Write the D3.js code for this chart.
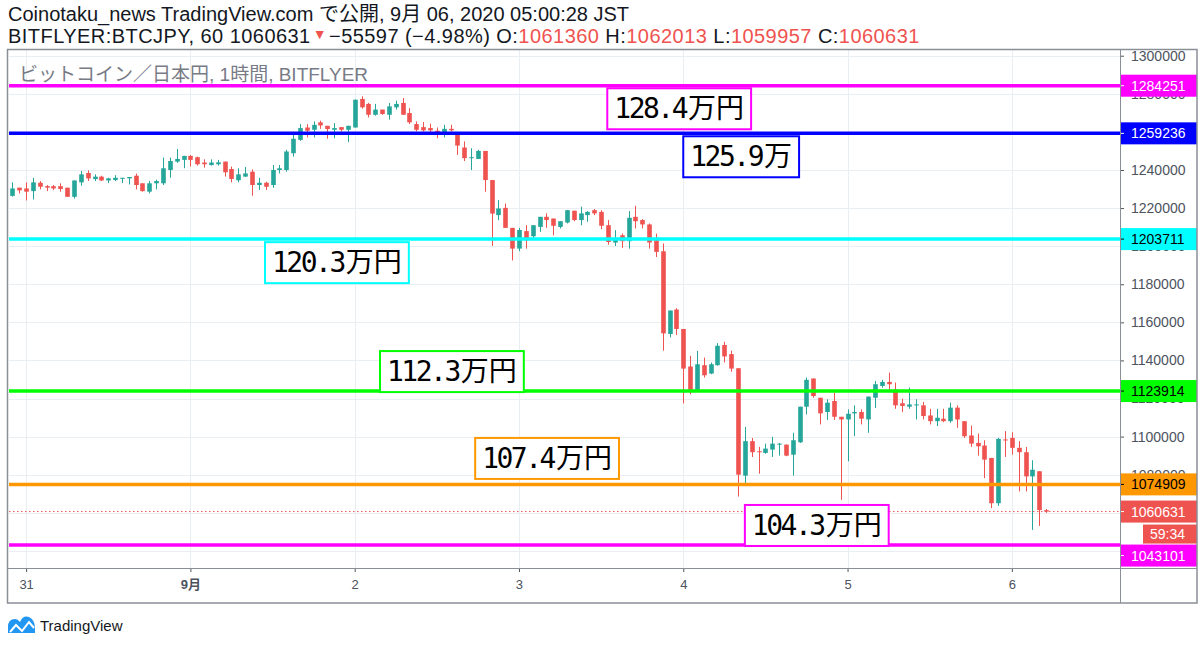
<!DOCTYPE html>
<html>
<head>
<meta charset="utf-8">
<script src="https://cdn.jsdelivr.net/npm/d3@7"></script>
<style>
body { margin: 0; background: #ffffff; }
svg { display: block; }
</style>
</head>
<body>
<svg id="chart" width="1200" height="647"></svg>
<script>
// Hourly BTC/JPY candles in thousand yen, first candle = Aug 30 22:00 JST (hour -2)
const firstHour = -2;
const opens = [
  1226.4, 1230.7, 1230.3, 1228.9, 1233.3, 1231.5, 1231.5, 1231.5, 1230.7, 1225.9,
  1233.5, 1238.4, 1235.2, 1236.5, 1234.5, 1234.7, 1235.6, 1235.6, 1237.0, 1233.0,
  1228.6, 1233.0, 1233.0, 1240.0, 1244.4, 1245.3, 1247.4, 1246.7, 1243.9, 1242.6,
  1243.0, 1244.4, 1240.5, 1234.6, 1236.5, 1239.1, 1232.1, 1233.3, 1232.1, 1240.0,
  1240.0, 1248.8, 1255.8, 1262.3, 1261.1, 1265.0, 1263.2, 1261.1, 1262.5, 1261.1,
  1262.3, 1277.3, 1274.7, 1269.0, 1271.7, 1269.0, 1272.9, 1275.2, 1269.9, 1264.1,
  1262.5, 1262.0, 1260.6, 1259.9, 1261.6, 1259.0, 1251.8, 1246.2, 1245.8, 1250.0,
  1234.7, 1216.3, 1220.1, 1209.6, 1198.7, 1207.9, 1205.2, 1210.1, 1215.4, 1214.5,
  1210.1, 1212.4, 1218.6, 1213.7, 1216.3, 1218.9, 1218.0, 1211.0, 1201.9, 1205.7,
  1202.6, 1215.4, 1213.7, 1211.4, 1203.1, 1197.3, 1153.9, 1166.7, 1156.5, 1136.8,
  1124.0, 1137.5, 1133.1, 1137.5, 1148.1, 1143.3, 1135.9, 1079.5, 1097.6, 1092.3,
  1091.4, 1093.2, 1095.8, 1095.8, 1090.5, 1097.0, 1115.7, 1130.5, 1120.4, 1112.9,
  1118.7, 1110.4, 1109.0, 1112.2, 1112.9, 1109.0, 1120.4, 1126.6, 1128.7, 1124.8,
  1117.5, 1115.7, 1116.4, 1116.4, 1111.1, 1108.1, 1109.4, 1108.1, 1115.2, 1108.1,
  1100.6, 1096.7, 1095.3, 1088.8, 1065.0, 1098.5, 1099.3, 1094.1, 1091.8, 1079.1,
  1081.8, 1061.36
];
const highs = [
  1233.5, 1230.7, 1233.5, 1235.9, 1234.2, 1232.1, 1232.1, 1233.0, 1230.7, 1234.5,
  1239.5, 1239.8, 1237.7, 1237.0, 1235.9, 1237.3, 1235.9, 1236.3, 1238.1, 1233.0,
  1234.2, 1234.9, 1246.5, 1246.5, 1251.0, 1247.4, 1247.9, 1247.0, 1245.6, 1245.6,
  1245.3, 1244.4, 1241.8, 1240.9, 1241.6, 1240.3, 1235.9, 1233.8, 1242.6, 1242.6,
  1250.6, 1258.5, 1264.1, 1264.1, 1265.5, 1265.9, 1263.2, 1264.6, 1262.5, 1263.2,
  1277.0, 1278.7, 1275.2, 1274.7, 1271.7, 1275.2, 1276.4, 1277.8, 1272.5, 1265.5,
  1265.2, 1264.3, 1262.3, 1263.7, 1263.7, 1259.0, 1255.0, 1251.4, 1250.6, 1250.0,
  1234.7, 1224.2, 1222.4, 1209.6, 1209.6, 1211.0, 1211.0, 1215.4, 1217.2, 1214.5,
  1213.1, 1218.9, 1218.6, 1220.7, 1218.4, 1219.5, 1218.9, 1213.7, 1208.4, 1206.6,
  1218.4, 1221.2, 1214.2, 1211.9, 1206.6, 1201.4, 1166.2, 1167.4, 1156.5, 1142.4,
  1145.0, 1141.5, 1138.9, 1149.1, 1149.8, 1145.1, 1135.9, 1105.1, 1099.3, 1094.6,
  1096.3, 1099.9, 1096.7, 1095.8, 1102.0, 1115.7, 1131.0, 1130.5, 1120.4, 1119.6,
  1123.1, 1110.4, 1114.3, 1116.4, 1114.3, 1121.0, 1129.2, 1129.8, 1133.6, 1128.4,
  1119.9, 1125.7, 1119.6, 1118.2, 1114.6, 1114.6, 1114.6, 1117.8, 1116.4, 1108.1,
  1105.8, 1101.6, 1098.1, 1088.8, 1099.3, 1102.9, 1102.3, 1097.6, 1094.6, 1087.6,
  1081.8, 1062.013
];
const lows = [
  1226.0, 1227.7, 1224.0, 1224.5, 1229.8, 1228.9, 1229.4, 1228.6, 1225.9, 1225.0,
  1231.7, 1234.2, 1234.2, 1234.2, 1233.1, 1234.2, 1233.1, 1232.4, 1229.8, 1228.6,
  1227.7, 1229.8, 1232.1, 1235.9, 1243.7, 1240.9, 1241.8, 1242.3, 1241.2, 1242.3,
  1242.3, 1236.5, 1233.5, 1233.5, 1236.5, 1226.5, 1229.5, 1229.5, 1230.7, 1238.2,
  1239.1, 1247.0, 1255.3, 1257.1, 1257.1, 1261.6, 1256.4, 1256.7, 1260.2, 1254.6,
  1262.3, 1272.2, 1267.6, 1268.5, 1269.0, 1266.4, 1271.7, 1269.0, 1264.1, 1260.2,
  1260.2, 1258.5, 1256.7, 1257.1, 1260.2, 1247.9, 1244.7, 1240.0, 1245.8, 1228.6,
  1200.1, 1213.6, 1209.6, 1192.5, 1197.3, 1198.7, 1204.0, 1207.5, 1209.6, 1205.7,
  1209.3, 1211.9, 1213.1, 1211.0, 1212.8, 1216.3, 1208.9, 1200.8, 1200.1, 1199.1,
  1198.7, 1209.3, 1209.3, 1198.7, 1194.3, 1145.1, 1152.1, 1153.3, 1117.4, 1122.2,
  1124.0, 1131.0, 1132.8, 1137.2, 1138.9, 1134.0, 1068.5, 1075.6, 1089.3, 1080.5,
  1091.0, 1089.3, 1090.0, 1089.7, 1079.5, 1096.7, 1111.6, 1120.4, 1106.4, 1108.7,
  1108.7, 1066.8, 1087.0, 1100.2, 1106.4, 1102.0, 1115.0, 1125.7, 1124.5, 1114.6,
  1112.9, 1114.6, 1109.0, 1109.0, 1106.4, 1105.5, 1107.6, 1107.3, 1104.6, 1099.3,
  1094.6, 1090.0, 1078.2, 1062.4, 1063.6, 1089.3, 1090.5, 1071.2, 1071.2, 1051.0,
  1053.1, 1059.957
];
const closes = [
  1230.3, 1229.3, 1228.6, 1233.5, 1231.2, 1230.7, 1230.3, 1230.0, 1225.9, 1234.5,
  1237.7, 1235.6, 1236.5, 1234.5, 1235.6, 1235.9, 1235.9, 1236.3, 1232.1, 1228.9,
  1233.0, 1234.2, 1240.9, 1244.7, 1245.8, 1247.4, 1245.3, 1243.0, 1243.0, 1243.9,
  1244.0, 1238.8, 1235.3, 1237.7, 1238.2, 1232.1, 1233.3, 1231.2, 1240.0, 1240.9,
  1249.7, 1256.4, 1262.0, 1260.6, 1263.7, 1263.4, 1261.5, 1262.0, 1261.1, 1263.2,
  1276.9, 1272.9, 1269.0, 1271.7, 1269.4, 1273.4, 1274.7, 1269.0, 1265.0, 1261.1,
  1260.8, 1260.8, 1258.8, 1261.6, 1260.8, 1252.8, 1246.2, 1246.7, 1250.0, 1234.7,
  1217.1, 1219.8, 1209.6, 1198.7, 1208.5, 1204.3, 1211.0, 1215.4, 1213.7, 1210.7,
  1213.1, 1218.9, 1213.7, 1217.2, 1218.0, 1217.2, 1210.7, 1202.2, 1203.6, 1202.6,
  1214.9, 1213.1, 1211.4, 1201.9, 1197.0, 1154.2, 1166.2, 1156.5, 1135.7, 1124.5,
  1138.0, 1132.2, 1138.0, 1147.7, 1142.1, 1135.7, 1080.0, 1097.6, 1091.8, 1091.8,
  1093.7, 1096.3, 1096.3, 1090.0, 1098.1, 1115.7, 1129.8, 1121.3, 1112.2, 1117.8,
  1110.4, 1109.0, 1112.0, 1112.9, 1109.4, 1121.0, 1127.5, 1128.7, 1127.5, 1116.4,
  1116.1, 1116.9, 1116.9, 1110.8, 1108.1, 1109.9, 1108.1, 1115.2, 1109.0, 1100.2,
  1096.3, 1094.9, 1087.9, 1065.0, 1098.8, 1098.1, 1094.1, 1091.8, 1079.1, 1082.6,
  1061.4, 1060.631
];

// Time axis: hours since Aug 31 00:00 JST
const dayHours = [0, 24, 48, 72, 96, 120, 144];
const dayLabels = ['31', '9月', '2', '3', '4', '5', '6'];

// Price axis ticks (thousand yen)
const priceTicks = [1040, 1060, 1080, 1100, 1120, 1140, 1160, 1180, 1200, 1220, 1240, 1260, 1280, 1300];

// Horizontal support / resistance lines
const levelPrices = [1284.251, 1259.236, 1203.711, 1123.914, 1074.909, 1043.101];
const levelColors = ['#ff00ff', '#0000ff', '#00ffff', '#00ff00', '#ff9800', '#ff00ff'];
const levelTextColors = ['#ffffff', '#ffffff', '#000000', '#000000', '#000000', '#ffffff'];

// Text notes: anchored at (hour, price) of their top-left corner
const noteNumbers = ['128.4', '125.9', '120.3', '112.3', '107.4', '104.3'];
const noteUnits = ['万円', '万', '万円', '万円', '万円', '万円'];
const noteHours = [84.9, 96.0, 34.9, 51.7, 65.6, 105.0];
const notePrices = [1282.9, 1257.7, 1202.1, 1144.9, 1099.3, 1064.1];
const noteColors = ['#ff00ff', '#0000ff', '#00ffff', '#00ff00', '#ff9800', '#ff00ff'];

const lastPrice = 1060.631;
const countdown = '59:34';

const UP = '#26a69a', DOWN = '#ef5350';
const FONT = "'Liberation Sans', Arial, 'Noto Sans CJK JP', sans-serif";

const svg = d3.select('#chart');
const plot = { left: 9, right: 1120, top: 50, bottom: 568 };
const timeAxisBottom = 603;
const frameRight = 1197;

const x = d3.scaleLinear().domain([-2.5, 159.8]).range([plot.left, plot.right]);
const y = d3.scaleLinear().domain([1031, 1303]).range([plot.bottom, plot.top]);

drawHeader();
drawGrid();
drawCandles();
drawLevels();
drawNotes();
drawAxes();
drawFrame();
drawLogo();

// Two header lines above the chart
function drawHeader() {
    svg.append('text')
        .attr('x', 8).attr('y', 21)
        .style('font-family', FONT).style('font-size', '20px')
        .attr('fill', '#131722')
        .text('Coinotaku_news TradingView.com で公開, 9月 06, 2020 05:00:28 JST');

    const t2 = svg.append('text')
        .attr('x', 8).attr('y', 43)
        .style('font-family', FONT).style('font-size', '20px')
        .style('letter-spacing', '0.45px')
        .attr('fill', '#131722');

    const parts = [
        ['BITFLYER:BTCJPY, 60 1060631', '#131722'],
        ['▼', DOWN],
        ['−55597 (−4.98%) O:', '#131722'],
        ['1061360', DOWN],
        [' H:', '#131722'],
        ['1062013', DOWN],
        [' L:', '#131722'],
        ['1059957', DOWN],
        [' C:', '#131722'],
        ['1060631', DOWN]
    ];
    parts.forEach(p => {
        const ts = t2.append('tspan').attr('fill', p[1]).text(p[0]);
        if (p[0] === '▼') ts.style('font-size', '14px').attr('dx', 2).attr('dy', -4);
        if (p[0].startsWith('−55597')) ts.attr('dx', 2).attr('dy', 4);
    });
}

// Light grid lines inside the plot
function drawGrid() {
    const g = svg.append('g').attr('class', 'grid');
    g.selectAll('line.h')
        .data(priceTicks)
        .enter().append('line')
        .attr('x1', plot.left).attr('x2', plot.right)
        .attr('y1', d => Math.round(y(d)) + 0.5)
        .attr('y2', d => Math.round(y(d)) + 0.5)
        .attr('stroke', '#e9eef3');
    g.selectAll('line.v')
        .data(dayHours)
        .enter().append('line')
        .attr('y1', plot.top).attr('y2', plot.bottom)
        .attr('x1', d => Math.round(x(d)) + 0.5)
        .attr('x2', d => Math.round(x(d)) + 0.5)
        .attr('stroke', '#e9eef3');

    svg.append('text')
        .attr('x', 19).attr('y', 81)
        .style('font-family', FONT).style('font-size', '19px')
        .attr('fill', '#787b86')
        .text('ビットコイン／日本円, 1時間, BITFLYER');
}

// Candles: wick + body
function drawCandles() {
    const data = opens.map((o, i) => ({
        hour: firstHour + i, o: o, h: highs[i], l: lows[i], c: closes[i]
    }));
    const bodyW = 4.6;

    const g = svg.append('g').attr('class', 'candles');
    const c = g.selectAll('g')
        .data(data)
        .enter().append('g');

    c.append('line')
        .attr('x1', d => Math.round(x(d.hour)) + 0.5)
        .attr('x2', d => Math.round(x(d.hour)) + 0.5)
        .attr('y1', d => y(d.h))
        .attr('y2', d => y(d.l))
        .attr('stroke', d => d.c >= d.o ? UP : DOWN)
        .attr('stroke-width', 1);

    c.append('rect')
        .attr('x', d => Math.round(x(d.hour)) + 0.5 - bodyW / 2)
        .attr('width', bodyW)
        .attr('y', d => y(Math.max(d.o, d.c)))
        .attr('height', d => Math.max(1, Math.abs(y(d.o) - y(d.c))))
        .attr('fill', d => d.c >= d.o ? UP : DOWN);

    // dotted last price line
    svg.append('line')
        .attr('x1', plot.left).attr('x2', plot.right)
        .attr('y1', y(lastPrice)).attr('y2', y(lastPrice))
        .attr('stroke', DOWN)
        .attr('stroke-dasharray', '1.5,2.5');
}

// Thick horizontal level lines
function drawLevels() {
    svg.append('g')
        .selectAll('line')
        .data(levelPrices)
        .enter().append('line')
        .attr('x1', plot.left).attr('x2', plot.right)
        .attr('y1', d => y(d)).attr('y2', d => y(d))
        .attr('stroke', (d, i) => levelColors[i])
        .attr('stroke-width', 3.5);
}

// Boxed price notes
function drawNotes() {
    const g = svg.append('g').attr('class', 'notes');
    noteNumbers.forEach((num, i) => {
        const bx = x(noteHours[i]);
        const by = y(notePrices[i]);
        const box = g.append('g');
        const rect = box.append('rect');
        const txt = box.append('text')
            .attr('x', bx + 7)
            .attr('y', by + 30)
            .attr('fill', '#000')
            .style('font-size', '28px');
        txt.append('tspan')
            .style('font-family', "'DejaVu Sans Mono', monospace")
            .style('letter-spacing', '-2.5px')
            .text(num);
        txt.append('tspan')
            .attr('dx', 2)
            .style('font-family', "'Noto Sans CJK JP', sans-serif")
            .text(noteUnits[i]);
        const w = txt.node().getComputedTextLength();
        rect.attr('x', bx).attr('y', by)
            .attr('width', w + 16).attr('height', 41)
            .attr('fill', '#ffffff')
            .attr('stroke', noteColors[i])
            .attr('stroke-width', 2);
    });
}

// Price axis on the right and time axis below
function drawAxes() {
    svg.append('rect')
        .attr('x', plot.right).attr('y', plot.top)
        .attr('width', frameRight - plot.right).attr('height', timeAxisBottom - plot.top)
        .attr('fill', '#ffffff');

    // price labels, stacked so they don't overlap
    const labels = levelPrices.map((p, i) => ({
        center: y(p), h: 22, fill: levelColors[i], color: levelTextColors[i],
        text: String(Math.round(p * 1000))
    }));
    labels.push({
        center: y(lastPrice), h: 22, fill: DOWN, color: '#ffffff',
        text: String(Math.round(lastPrice * 1000)), withTimer: true
    });
    labels.sort((a, b) => a.center - b.center);
    const boxes = [];
    let prevBottom = -Infinity;
    labels.forEach(l => {
        l.top = Math.max(l.center - l.h / 2, prevBottom + 1);
        prevBottom = l.top + l.h;
        boxes.push([l.top, prevBottom]);
        if (l.withTimer) {
            l.timerTop = prevBottom + 2;
            prevBottom = l.timerTop + 19;
        }
    });

    // tick labels that a price label hides completely are not drawn
    const visibleTicks = priceTicks.filter(t => {
        const ty = y(t);
        return !boxes.some(b => ty - 5 >= b[0] && ty + 5 <= b[1]);
    });

    const yAxis = d3.axisRight(y)
        .tickValues(visibleTicks)
        .tickFormat(d => d * 1000)
        .tickSize(4)
        .tickPadding(7);
    const ya = svg.append('g')
        .attr('transform', `translate(${plot.right},0)`)
        .call(yAxis);
    ya.select('.domain').remove();
    ya.selectAll('line').attr('stroke', '#555');
    ya.selectAll('text')
        .style('font-family', FONT).style('font-size', '14px')
        .attr('fill', '#4c525e');

    const xAxis = d3.axisBottom(x)
        .tickValues(dayHours)
        .tickFormat((d, i) => dayLabels[i])
        .tickSize(4)
        .tickPadding(8);
    const xa = svg.append('g')
        .attr('transform', `translate(0,${plot.bottom})`)
        .call(xAxis);
    xa.select('.domain').remove();
    xa.selectAll('line').attr('stroke', '#555');
    xa.selectAll('text')
        .style('font-family', FONT).style('font-size', '13px')
        .attr('fill', '#4c525e')
        .style('font-weight', d => d === 24 ? 'bold' : 'normal');

    const g = svg.append('g').attr('class', 'price-labels');
    labels.forEach(l => {
        g.append('rect')
            .attr('x', plot.right).attr('y', l.top)
            .attr('width', frameRight - plot.right).attr('height', l.h)
            .attr('fill', l.fill);
        g.append('line')
            .attr('x1', plot.right).attr('x2', plot.right + 4)
            .attr('y1', l.top + l.h / 2).attr('y2', l.top + l.h / 2)
            .attr('stroke', l.color);
        g.append('text')
            .attr('x', plot.right + 11).attr('y', l.top + l.h / 2 + 5)
            .style('font-family', FONT).style('font-size', '14px')
            .attr('fill', l.color)
            .text(l.text);
        if (l.withTimer) {
            g.append('rect')
                .attr('x', 1143).attr('y', l.timerTop)
                .attr('width', frameRight - 1143).attr('height', 19)
                .attr('fill', DOWN);
            g.append('text')
                .attr('x', 1150).attr('y', l.timerTop + 14.5)
                .style('font-family', FONT).style('font-size', '14px')
                .attr('fill', '#ffffff')
                .text(countdown);
        }
    });
}

// Outer frame and separators
function drawFrame() {
    const stroke = '#8a8e97';
    const f = svg.append('g').attr('fill', 'none').attr('stroke', stroke);
    f.append('rect')
        .attr('x', 7.5).attr('y', plot.top - 0.5)
        .attr('width', frameRight - 7.5).attr('height', timeAxisBottom - plot.top + 0.5)
        .attr('stroke-width', 1.5);
    f.append('line')
        .attr('x1', 7.5).attr('x2', frameRight)
        .attr('y1', plot.bottom + 0.5).attr('y2', plot.bottom + 0.5);
    f.append('line')
        .attr('x1', plot.right + 0.5).attr('x2', plot.right + 0.5)
        .attr('y1', plot.top).attr('y2', timeAxisBottom);
}

// TradingView badge in the bottom left
function drawLogo() {
    const g = svg.append('g').attr('transform', 'translate(8,613)');
    g.append('path')
        .attr('d', 'M0,20 L0,14 Q0,6 7,6 Q10,6 12,9 Q15,2 21,4 Q27,7 27,15 L27,20 Z')
        .attr('fill', '#2196f3');
    g.append('polyline')
        .attr('points', '2,19 8,12 14,18 21,9 26,15')
        .attr('fill', 'none')
        .attr('stroke', '#ffffff')
        .attr('stroke-width', 2);
    g.append('text')
        .attr('x', 32).attr('y', 18)
        .style('font-family', FONT).style('font-size', '15px')
        .attr('fill', '#131722')
        .text('TradingView');
}
</script>
</body>
</html>
